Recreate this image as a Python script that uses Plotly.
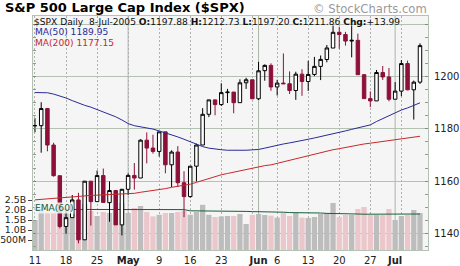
import plotly.graph_objects as go
import pandas as pd

# ---------------- data ----------------
dates = ["2005-04-11","2005-04-12","2005-04-13","2005-04-14","2005-04-15",
         "2005-04-18","2005-04-19","2005-04-20","2005-04-21","2005-04-22",
         "2005-04-25","2005-04-26","2005-04-27","2005-04-28","2005-04-29",
         "2005-05-02","2005-05-03","2005-05-04","2005-05-05","2005-05-06",
         "2005-05-09","2005-05-10","2005-05-11","2005-05-12","2005-05-13",
         "2005-05-16","2005-05-17","2005-05-18","2005-05-19","2005-05-20",
         "2005-05-23","2005-05-24","2005-05-25","2005-05-26","2005-05-27",
         "2005-05-31","2005-06-01","2005-06-02","2005-06-03",
         "2005-06-06","2005-06-07","2005-06-08","2005-06-09","2005-06-10",
         "2005-06-13","2005-06-14","2005-06-15","2005-06-16","2005-06-17",
         "2005-06-20","2005-06-21","2005-06-22","2005-06-23","2005-06-24",
         "2005-06-27","2005-06-28","2005-06-29","2005-06-30","2005-07-01",
         "2005-07-05","2005-07-06","2005-07-07","2005-07-08"]

opens = [1181.20,1181.21,1187.76,1173.79,1162.05,
         1142.62,1145.98,1152.78,1137.50,1159.95,
         1152.12,1162.10,1151.74,1156.38,1143.22,
         1156.85,1162.16,1161.17,1175.65,1172.63,
         1171.35,1178.84,1166.22,1171.11,1159.36,
         1154.05,1165.69,1173.80,1185.56,1191.08,
         1189.28,1193.86,1194.07,1190.01,1197.62,
         1198.78,1191.50,1202.27,1204.29,
         1196.02,1197.51,1197.26,1194.67,1200.93,
         1198.11,1200.82,1203.91,1206.55,1210.93,
         1216.96,1216.10,1213.61,1213.88,1200.73,
         1191.57,1190.69,1201.57,1199.85,1191.33,
         1194.44,1204.99,1194.94,1197.88]

highs = [1184.07,1190.17,1187.76,1174.67,1162.05,
         1148.92,1154.67,1155.50,1159.95,1159.95,
         1164.05,1164.80,1159.87,1156.38,1156.97,
         1162.87,1166.89,1176.01,1178.62,1177.75,
         1178.87,1178.84,1171.77,1173.37,1163.75,
         1165.75,1174.35,1187.90,1191.09,1191.22,
         1197.44,1195.29,1194.07,1198.95,1199.56,
         1198.78,1205.64,1204.67,1205.09,
         1198.78,1208.85,1201.97,1201.86,1202.79,
         1206.03,1207.53,1208.08,1212.10,1219.55,
         1219.10,1217.13,1219.59,1216.45,1200.90,
         1194.33,1202.54,1204.07,1203.27,1197.89,
         1206.34,1206.11,1198.46,1212.73]

lows = [1178.69,1170.85,1171.40,1161.70,1141.92,
        1139.80,1145.98,1136.15,1137.50,1142.95,
        1152.12,1151.83,1144.42,1143.22,1139.19,
        1154.71,1156.71,1161.17,1166.77,1170.50,
        1169.38,1162.98,1157.71,1157.76,1146.18,
        1153.64,1159.86,1173.80,1184.49,1185.19,
        1188.76,1189.87,1185.96,1190.01,1195.28,
        1191.50,1191.03,1198.42,1194.55,
        1192.75,1197.26,1193.33,1191.09,1192.64,
        1194.51,1200.18,1198.66,1205.47,1210.93,
        1210.65,1211.86,1207.37,1200.72,1191.45,
        1188.30,1190.69,1198.70,1190.51,1191.33,
        1192.49,1194.78,1183.55,1197.20]

closes = [1181.21,1187.76,1173.79,1162.05,1142.62,
          1145.98,1152.78,1137.50,1159.95,1152.12,
          1162.10,1151.83,1156.38,1143.22,1156.85,
          1162.16,1161.17,1175.65,1172.63,1171.35,
          1178.84,1166.22,1171.11,1159.36,1154.05,
          1165.69,1173.80,1185.56,1191.08,1189.28,
          1193.86,1194.07,1190.01,1197.62,1198.78,
          1191.50,1202.22,1204.29,1196.02,
          1197.51,1197.26,1194.67,1200.93,1198.11,
          1200.82,1203.91,1206.58,1210.96,1216.96,
          1216.10,1213.61,1213.88,1200.73,1191.57,
          1190.69,1201.57,1199.85,1191.33,1194.44,
          1204.99,1194.94,1197.87,1211.86]

prev_close_before_start = 1181.20

# volume in billions of shares
volumes = [1.50,1.95,1.90,1.90,2.20,
           1.95,1.80,2.05,2.30,1.95,
           1.70,1.90,1.85,1.95,2.35,
           1.85,2.10,2.20,1.90,1.68,
           1.76,1.85,1.85,1.90,1.95,
           1.76,1.90,2.26,1.76,1.65,
           1.68,1.70,1.70,1.80,1.30,
           1.75,1.80,1.75,1.72,
           1.62,1.85,1.70,1.85,1.62,
           1.60,1.65,1.80,1.85,2.35,
           1.65,1.75,1.75,2.05,2.15,
           1.75,1.75,1.75,2.05,1.50,
           1.70,1.75,2.00,1.85]

ma50 = [1193.9,1193.9,1193.8,1193.3,1192.6,
        1191.8,1190.8,1189.8,1189.0,1188.3,
        1187.4,1186.5,1185.6,1184.6,1183.4,
        1182.0,1181.2,1180.8,1180.4,1179.9,
        1179.2,1178.5,1177.8,1176.9,1176.0,
        1175.0,1174.0,1173.2,1172.6,1172.2,
        1172.0,1171.8,1171.7,1171.8,1171.8,
        1171.9,1172.1,1172.6,1173.2,
        1173.8,1174.2,1174.6,1175.0,1175.5,
        1176.0,1176.5,1177.0,1177.5,1178.0,
        1178.6,1179.2,1179.8,1180.4,1181.0,
        1181.5,1182.8,1183.9,1185.0,1186.3,
        1187.2,1188.0,1188.9,1189.95]

ma200 = [1152.8,1153.0,1153.2,1153.4,1153.7,
         1153.9,1154.0,1154.2,1154.3,1154.5,
         1154.6,1154.7,1154.8,1154.9,1155.0,
         1155.0,1155.3,1155.7,1156.0,1156.3,
         1156.6,1157.1,1157.6,1158.0,1158.4,
         1158.8,1159.5,1160.3,1161.0,1161.7,
         1162.4,1162.9,1163.4,1163.9,1164.3,
         1164.9,1165.5,1165.9,1166.2,
         1166.8,1167.4,1168.0,1168.6,1169.2,
         1169.8,1170.3,1170.8,1171.4,1172.0,
         1172.4,1172.9,1173.3,1173.8,1174.2,
         1174.5,1174.8,1175.1,1175.4,1175.7,
         1176.1,1176.5,1176.8,1177.15]

vol_ema60 = [2.03,2.03,2.03,2.03,2.03,
             2.03,2.03,2.03,2.03,2.03,
             2.03,2.03,2.03,2.03,2.03,
             2.03,2.03,2.03,2.03,2.03,
             2.02,2.02,2.02,2.02,2.02,
             1.96,1.96,1.96,1.95,1.95,
             1.95,1.94,1.94,1.94,1.93,
             1.92,1.92,1.91,1.91,
             1.90,1.89,1.87,1.87,1.86,
             1.86,1.85,1.85,1.83,1.83,
             1.82,1.81,1.80,1.80,1.79,
             1.79,1.79,1.78,1.78,1.80,
             1.80,1.80,1.80,1.80]

tick_dates = ["2005-04-11","2005-04-18","2005-04-25","2005-05-02","2005-05-09",
              "2005-05-16","2005-05-23","2005-06-01","2005-06-06","2005-06-13",
              "2005-06-20","2005-06-27","2005-07-01"]
tick_labels = ["11","18","25","<b>May</b>","9","16","23","<b>Jun</b>","6","13",
               "20","27","<b>Jul</b>"]

price_ticks = [1140, 1160, 1180, 1200, 1220]
price_tick_labels = ["1140", "1160", "1180", "1200", ""]
vol_ticks = [0.5, 1.0, 1.5, 2.0, 2.5]
vol_tick_labels = ["500M", "1.0B", "1.5B", "2.0B", "2.5B"]

title_text = "S&P 500 Large Cap Index ($SPX)"
info_text = ("$SPX Daily  8-Jul-2005 <b>O:</b>1197.88 <b>H:</b>1212.73 "
             "<b>L:</b>1197.20 <b>C:</b>1211.86 <b>Chg:</b>+13.99")

# ---------------- derived ----------------
idx = list(range(len(dates)))
dts = pd.to_datetime(dates)
week_starts = [i for i in idx if i == 0 or dts[i].weekday() < dts[i - 1].weekday()]
month_starts = [i for i in idx if i > 0 and dts[i].month != dts[i - 1].month]
tickvals = [dates.index(d) for d in tick_dates]

prev = [prev_close_before_start] + closes[:-1]
vol_colors = ["#bdbdbd" if c >= p else "#ebc6cb" for c, p in zip(closes, prev)]

FONT = "DejaVu Sans"
MAROON = "#8c1039"
GRID = "#b4c2b4"

fig = go.Figure()

fig.add_trace(go.Bar(x=idx, y=volumes, marker=dict(color=vol_colors, line=dict(width=0)),
                     yaxis="y", showlegend=False, hoverinfo="skip"))
fig.add_trace(go.Scatter(x=idx, y=vol_ema60, mode="lines", yaxis="y",
                         line=dict(color="#17603a", width=1), showlegend=False))

fig.add_trace(go.Scatter(x=idx, y=ma200, mode="lines", yaxis="y2",
                         line=dict(color="#c8282a", width=1), showlegend=False))
fig.add_trace(go.Scatter(x=idx, y=ma50, mode="lines", yaxis="y2",
                         line=dict(color="#2a2a96", width=1), showlegend=False))
fig.add_trace(go.Candlestick(x=idx, open=opens, high=highs, low=lows, close=closes,
                             yaxis="y2", showlegend=False,
                             increasing=dict(line=dict(color="#000000", width=1), fillcolor="#ffffff"),
                             decreasing=dict(line=dict(color=MAROON, width=1), fillcolor=MAROON)))

shapes = [dict(type="line", xref="x", yref="paper", x0=m, x1=m, y0=0, y1=1,
               line=dict(color="#a9b7a9", width=1), layer="below") for m in month_starts]

L, R, T, B = 33, 32, 16, 16
W, H = 460, 266
pw, ph = W - L - R, H - T - B

def px(xp):
    return (xp - L) / pw

def py(yp):
    return (H - B - yp) / ph

TXT = 9.1
annotations = [
    dict(text="<b>" + title_text + "</b>", x=px(4), y=py(8), xref="paper", yref="paper",
         xanchor="left", yanchor="middle", showarrow=False, borderpad=0,
         font=dict(family=FONT, size=13, color="#000000")),
    dict(text="© StockCharts.com", x=px(428), y=py(9), xref="paper", yref="paper",
         xanchor="right", yanchor="middle", showarrow=False, borderpad=0,
         font=dict(family=FONT, size=11.6, color="#9a9a9a")),
    dict(text=info_text, x=px(33), y=py(21.5), xref="paper", yref="paper",
         xanchor="left", yanchor="middle", showarrow=False, borderpad=0,
         font=dict(family=FONT, size=TXT, color="#111111")),
    dict(text="MA(50) 1189.95", x=px(34), y=py(32), xref="paper", yref="paper",
         xanchor="left", yanchor="middle", showarrow=False, borderpad=0,
         font=dict(family=FONT, size=TXT, color="#2a2a96")),
    dict(text="MA(200) 1177.15", x=px(34), y=py(42.5), xref="paper", yref="paper",
         xanchor="left", yanchor="middle", showarrow=False, borderpad=0,
         font=dict(family=FONT, size=TXT, color="#c8282a")),
    dict(text="EMA(60)", x=px(34), y=py(207.5), xref="paper", yref="paper",
         xanchor="left", yanchor="middle", showarrow=False, bgcolor="rgba(245,245,245,0.85)",
         borderpad=0, font=dict(family=FONT, size=TXT, color="#17603a")),
]

fig.update_layout(
    template="none",
    width=W, height=H,
    margin=dict(l=L, r=R, t=T, b=B, pad=0, autoexpand=False),
    paper_bgcolor="#ffffff", plot_bgcolor="#f5f5f5",
    font=dict(family=FONT, size=10, color="#222222"),
    showlegend=False, bargap=0.15, boxgap=0.2,
    xaxis=dict(range=[-0.32, 63.29], tickmode="array", tickvals=tickvals, ticktext=tick_labels,
               automargin=False,
               showgrid=False, zeroline=False, showline=True, mirror=True, linecolor=GRID,
               ticks="", tickfont=dict(family=FONT, size=10, color="#222222"),
               rangeslider=dict(visible=False), ticklabelstandoff=1,
               minor=dict(tickmode="array", tickvals=week_starts, showgrid=True,
                          gridcolor="#b0b0b0", griddash="2px,2px", gridwidth=1, ticks="")),
    yaxis=dict(range=[0, 11.7], side="left", tickmode="array", tickvals=vol_ticks,
               automargin=False,
               ticktext=vol_tick_labels, showgrid=False, zeroline=False, showline=False,
               ticks="outside", ticklen=4, tickcolor="#444444",
               tickfont=dict(family=FONT, size=9.4, color="#222222"), ticklabelstandoff=0),
    yaxis2=dict(range=[1133.6, 1223.2], overlaying="y", side="right", tickmode="array",
                automargin=False,
                tickvals=price_ticks, ticktext=price_tick_labels, showgrid=True, gridcolor=GRID,
                gridwidth=1, zeroline=False, showline=True, mirror="allticks", linecolor=GRID,
                ticks="inside", ticklen=3, tickcolor="#888888",
                tickfont=dict(family=FONT, size=10, color="#222222"), ticklabelstandoff=3,
                minor=dict(dtick=5, tick0=1140, ticks="inside", ticklen=3, tickcolor="#999999",
                           showgrid=False)),
    shapes=shapes, annotations=annotations,
)

fig.write_html("out.html")
